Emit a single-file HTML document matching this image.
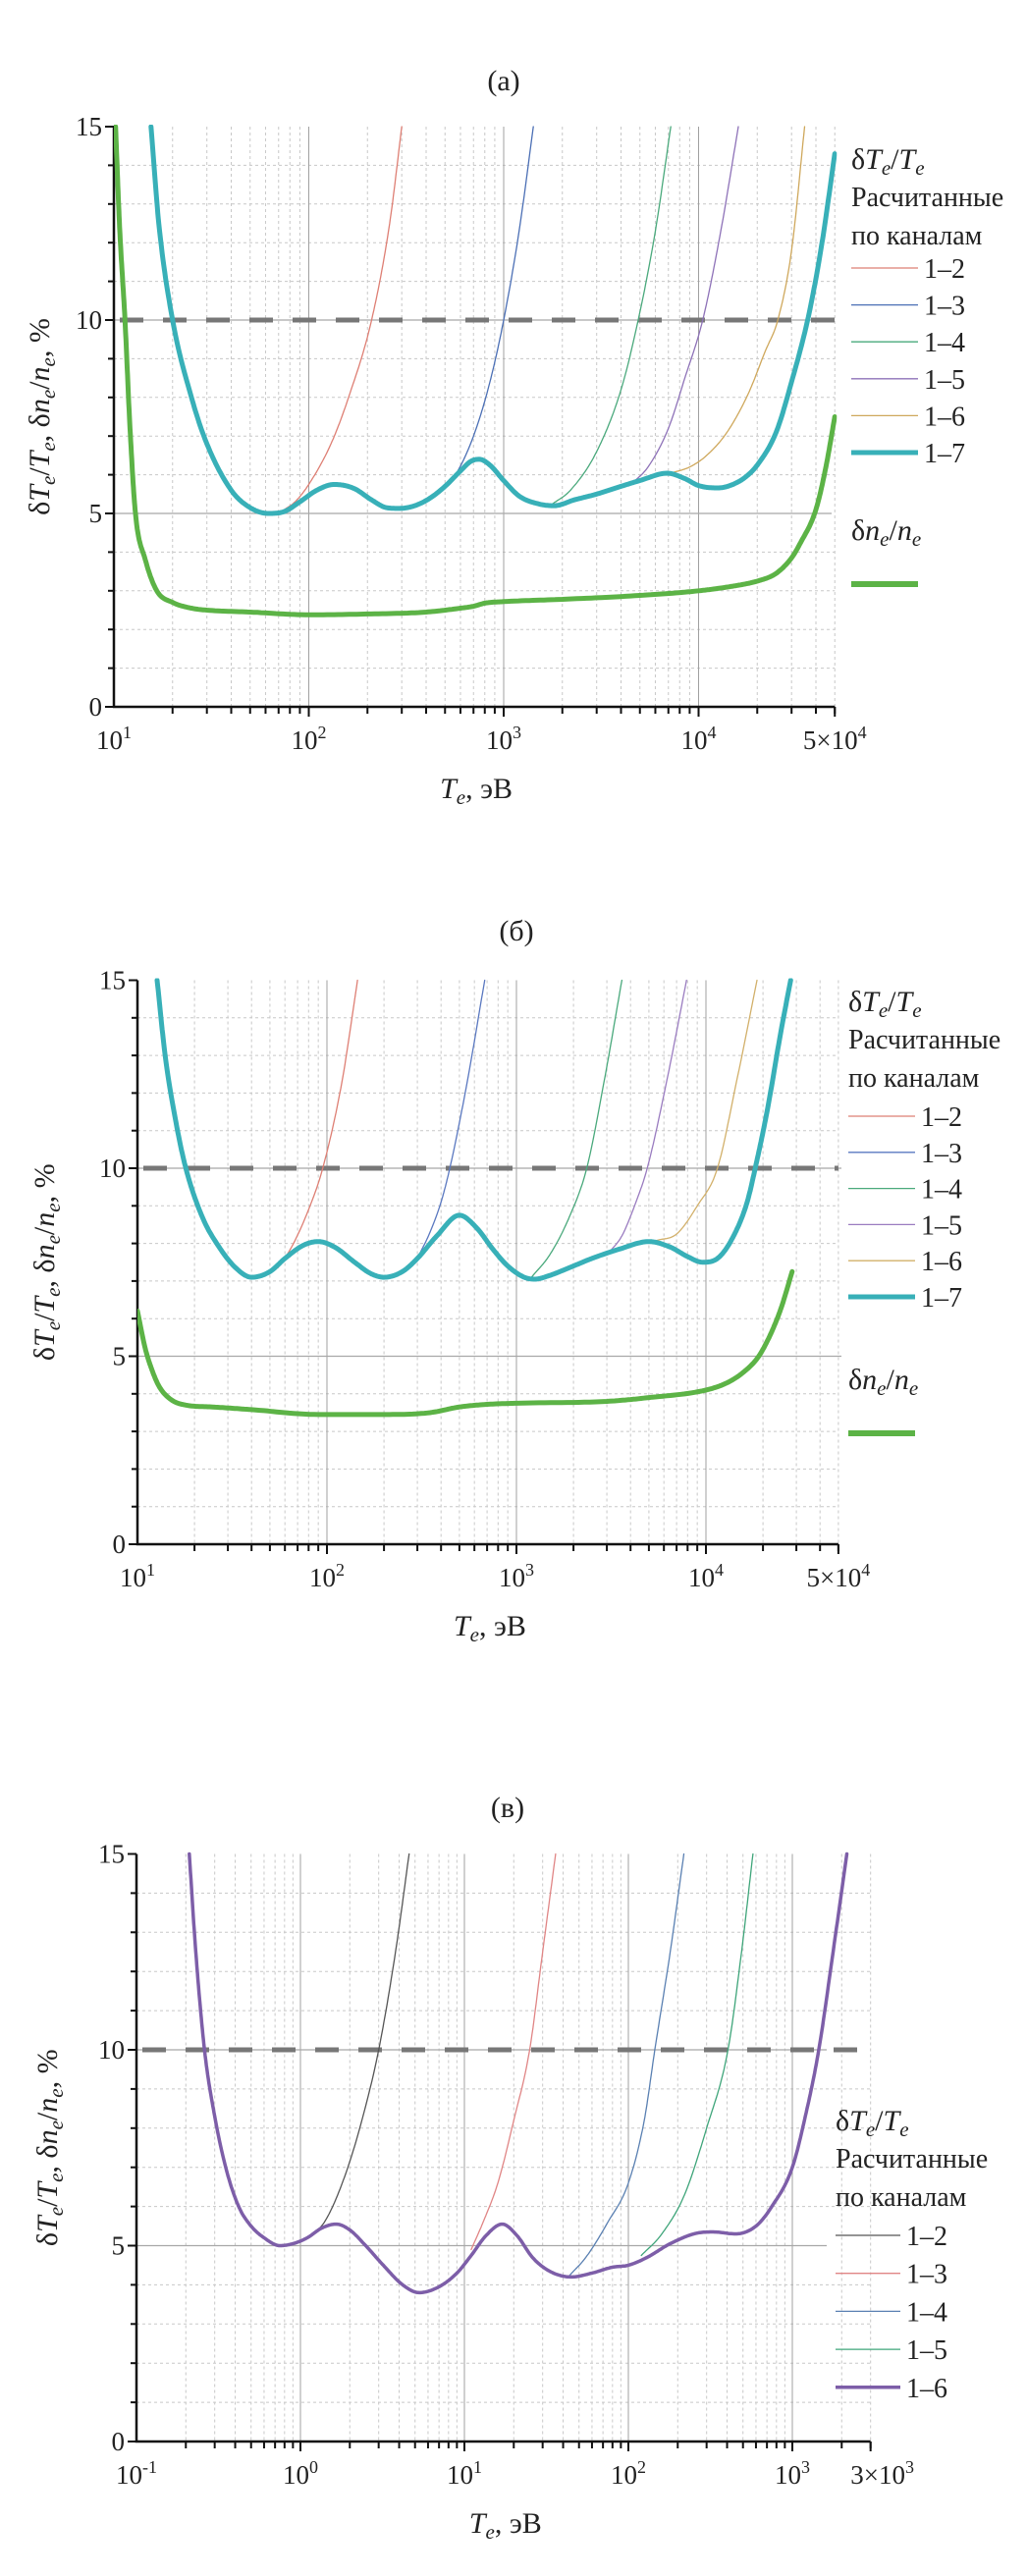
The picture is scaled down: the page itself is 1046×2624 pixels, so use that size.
<!DOCTYPE html>
<html><head><meta charset="utf-8"><style>
html,body{margin:0;padding:0;background:#fff}
svg{display:block}
text{font-family:"Liberation Serif",serif;fill:#222}
</style></head><body>
<svg id="fig" xmlns="http://www.w3.org/2000/svg" width="1046" height="2624" viewBox="0 0 1046 2624"></svg>
<script>
// ---------- Panel (a) data ----------
const a17T=[15.5,17,20,25,30,40,50,62,75,90,110,135,170,210,250,290,350,420,500,600,680,750,850,1000,1200,1500,1820,2300,3000,4000,5000,6900,8500,10000,12600,15000,17500,20000,25000,30000,37000,43000,50000];
const a17V=[15,12.5,10,8,6.8,5.6,5.15,5.0,5.05,5.3,5.6,5.75,5.65,5.35,5.15,5.13,5.2,5.4,5.7,6.1,6.35,6.4,6.25,5.85,5.45,5.25,5.2,5.35,5.5,5.7,5.85,6.04,5.9,5.72,5.66,5.75,5.95,6.25,7.1,8.4,10.2,12,14.3];
const aNT=[10.2,10.7,11.4,12.1,12.9,14.5,16.6,20,25,30,50,100,200,400,600,700,800,1000,2000,5000,10000,15000,20000,25000,30000,33000,40000,45000,50000];
const aNV=[15,12.4,10,7.2,5,3.8,3.0,2.7,2.55,2.5,2.45,2.38,2.4,2.45,2.55,2.6,2.68,2.72,2.78,2.88,3.0,3.12,3.25,3.45,3.85,4.2,5.1,6.2,7.5];
const a12T=[75,85,100,130,160,210,260,300];      const a12V=[5.1,5.3,5.75,6.8,8.0,10,12.5,15];
const a13T=[450,550,700,850,1000,1200,1420];     const a13V=[5.5,5.9,7,8.4,10,12.3,15];
const a14T=[1750,2200,3000,4000,4900,6000,7200]; const a14V=[5.22,5.6,6.6,8.2,10,12.3,15];
const a15T=[4500,5500,7000,8500,10500,13000,16000]; const a15V=[5.75,6.2,7.2,8.5,10,12.3,15];
const a16T=[7300,9000,11000,14000,18000,22000,25500,30000,35000]; const a16V=[6.05,6.2,6.5,7.1,8.1,9.2,10,11.8,15];
// ---------- Panel (b) data ----------
const b17T=[12.7,14,16,18,22,27,33,40,50,60,75,90,110,140,170,200,250,300,380,500,620,750,900,1100,1250,1500,2000,2500,3500,5000,6500,8000,9600,11500,14000,16500,18200,21000,25000,28000];
const b17V=[15,13,11.2,10,8.7,7.9,7.35,7.1,7.25,7.6,7.95,8.05,7.9,7.5,7.2,7.1,7.25,7.6,8.2,8.75,8.4,7.85,7.4,7.1,7.05,7.15,7.4,7.6,7.85,8.05,7.9,7.65,7.5,7.6,8.2,9.1,10,11.5,13.7,15];
const bNT=[10,11,12,13,15,18,25,40,90,200,350,500,700,1000,3000,5000,10000,13000,16000,19000,22000,25000,28500];
const bNV=[6.2,5.2,4.6,4.2,3.85,3.7,3.65,3.58,3.45,3.45,3.5,3.65,3.72,3.75,3.8,3.9,4.1,4.3,4.6,5.0,5.6,6.3,7.25];
const b12T=[55,65,80,95,120,145];        const b12V=[7.35,7.9,8.9,10,12.3,15];
const b13T=[300,350,400,445,550,680];    const b13V=[7.6,8.3,9.1,10,12.3,15];
const b14T=[1200,1500,1900,2350,2900,3600]; const b14V=[7.1,7.7,8.7,10,12.3,15];
const b15T=[3000,3600,4200,4900,6200,7900]; const b15V=[7.7,8.2,9,10,12.3,15];
const b16T=[5500,7000,9000,11500,14500,18600]; const b16V=[8.08,8.25,9,10,12.3,15];
// ---------- Panel (c) data ----------
const c16T=[0.21,0.23,0.26,0.3,0.35,0.42,0.5,0.6,0.75,0.9,1.1,1.35,1.65,2,2.5,3.2,4.2,5.3,7,9,11,13.5,17,21,26,33,45,60,80,100,130,180,270,330,450,600,750,1000,1200,1450,1800,2150];
const c16V=[15,12.5,10,8.3,7,6,5.5,5.2,5.0,5.05,5.2,5.45,5.55,5.4,5.0,4.5,4.0,3.8,3.95,4.3,4.75,5.25,5.55,5.25,4.7,4.35,4.2,4.3,4.45,4.5,4.7,5.05,5.33,5.35,5.3,5.5,6.0,7.0,8.3,10,12.7,15];
const c12T=[1.15,1.4,1.8,2.3,3.0,3.8,4.6];  const c12V=[5.25,5.6,6.6,8,10,12.5,15];
const c13T=[11,13,16,20,25,30,36];         const c13V=[4.9,5.6,6.6,8.2,10,12.5,15];
const c14T=[44,55,75,100,125,145,180,218];  const c14V=[4.25,4.7,5.6,6.6,8.2,10,12.5,15];
const c15T=[120,160,220,300,405,490,575];   const c15V=[4.75,5.3,6.3,8,10,12.5,15];
const yTicks=[0,5,10,15];
const yTickLabels=["0","5","10","15"];
const aXTickExp=["1","2","3","4"]; const bXTickExp=["1","2","3","4"]; const cXTickExp=["-1","0","1","2","3"];

const NS="http://www.w3.org/2000/svg";
const svg=document.getElementById('fig');
function el(tag,attrs,parent){const e=document.createElementNS(NS,tag);for(const k in attrs)e.setAttribute(k,attrs[k]);(parent||svg).appendChild(e);return e;}

function monoPath(p,T,V){
  const n=T.length,x=T.map(t=>Math.log10(t)),y=V.slice();
  const d=[],m=new Array(n);
  for(let i=0;i<n-1;i++)d.push((y[i+1]-y[i])/(x[i+1]-x[i]));
  m[0]=d[0];m[n-1]=d[n-2];
  for(let i=1;i<n-1;i++){m[i]=(d[i-1]*d[i]<=0)?0:(d[i-1]+d[i])/2;}
  for(let i=0;i<n-1;i++){if(d[i]===0){m[i]=0;m[i+1]=0;continue;}const a=m[i]/d[i],b=m[i+1]/d[i],s=a*a+b*b;if(s>9){const t=3/Math.sqrt(s);m[i]=t*a*d[i];m[i+1]=t*b*d[i];}}
  let s="";
  for(let i=0;i<n-1;i++){const h=x[i+1]-x[i];
    for(let k=0;k<=16;k++){if(i>0&&k===0)continue;const t=k/16,t2=t*t,t3=t2*t;
      const v=(2*t3-3*t2+1)*y[i]+(t3-2*t2+t)*h*m[i]+(-2*t3+3*t2)*y[i+1]+(t3-t2)*h*m[i+1];
      const X=p.x0+(x[i]+t*h-p.lmin)*p.dec,Y=p.y0-v*p.yu;
      s+=(s?"L":"M")+X.toFixed(1)+","+Y.toFixed(1);}}
  return s;
}

function richText(parent,x,y,parts,attrs){
  const t=el('text',Object.assign({x:x,y:y},attrs||{}),parent);
  parts.forEach(pt=>{const ts=el('tspan',{},t);ts.textContent=pt[0];
    if(pt[1]==='i')ts.setAttribute('font-style','italic');
    if(pt[1]==='sub'){ts.setAttribute('font-style','italic');ts.setAttribute('font-size','0.7em');ts.setAttribute('dy','6');}
    if(pt[1]==='up')ts.setAttribute('dy','-6');
  });
  return t;
}
const deltaParts=[["δ"],["T","i"],["e","sub"],["/","up"],["T","i"],["e","sub"]];
const yTitleParts=[["δ"],["T","i"],["e","sub"],["/","up"],["T","i"],["e","sub"],[", δ","up"],["n","i"],["e","sub"],["/","up"],["n","i"],["e","sub"],[", %","up"]];

function panel(p){
  const g=el('g',{});
  
  
  const top=p.y0-15*p.yu, right=p.x0+(p.lmax-p.lmin)*p.dec;
  const clipId='clip-'+p.id;
  const cp=el('clipPath',{id:clipId},g);el('rect',{x:p.x0,y:top-2,width:right-p.x0+2,height:p.y0-top+2},cp);
  const grid=el('g',{},g);
  
  
  for(let v=1;v<15;v++){ if(v===5||v===10)continue;
    el('line',{x1:p.x0,x2:right,y1:p.y0-v*p.yu,y2:p.y0-v*p.yu,stroke:'#c8c8c8','stroke-width':1,'stroke-dasharray':'3,3'},grid);}
  for(let e=Math.floor(p.lmin);e<=Math.ceil(p.lmax);e++){
    for(let m=1;m<10;m++){const L=e+Math.log10(m);if(L<=p.lmin+1e-6||L>p.lmax+1e-6)continue;
      const X=p.x0+(L-p.lmin)*p.dec;
      if(m===1)el('line',{x1:X,x2:X,y1:top,y2:p.y0,stroke:'#a0a0a0','stroke-width':1},grid);
      else el('line',{x1:X,x2:X,y1:top,y2:p.y0,stroke:'#c8c8c8','stroke-width':1,'stroke-dasharray':'3,3'},grid);
      el('line',{x1:X,x2:X,y1:p.y0,y2:p.y0+(m===1?10:7),stroke:'#111','stroke-width':2},g);
    }}
  [5,10].forEach(v=>el('line',{x1:p.x0,x2:p.hEnd,y1:p.y0-v*p.yu,y2:p.y0-v*p.yu,stroke:'#a8a8a8','stroke-width':1.3},grid));
  const dash=el('line',{x1:p.x0,x2:right,y1:p.y0-10*p.yu,y2:p.y0-10*p.yu,stroke:'#777','stroke-width':5,'stroke-dasharray':'24,20','stroke-dashoffset':'-6'},g);
  
  
  const ax=el('path',{d:`M${p.x0},${top}V${p.y0}H${right}`,fill:'none',stroke:'#111','stroke-width':2.5},g);
  
  
  el('line',{x1:right,x2:right,y1:p.y0,y2:p.y0+10,stroke:'#111','stroke-width':2},g);
  for(let v=0;v<=15;v++){const Y=p.y0-v*p.yu;el('line',{x1:p.x0-(v%5===0?9:6),x2:p.x0,y1:Y,y2:Y,stroke:'#111','stroke-width':2},g);}
  yTicks.forEach((v,i)=>{const t=el('text',{x:p.x0-12,y:p.y0-v*p.yu+9,'text-anchor':'end','font-size':27},g);t.textContent=yTickLabels[i];
    
    });
  p.exps.forEach((ex,i)=>{const X=p.x0+i*p.dec;const t=el('text',{x:X,y:p.y0+43,'text-anchor':'middle','font-size':27},g);
    const a=el('tspan',{},t);a.textContent='10';const b=el('tspan',{dy:-11,'font-size':18},t);b.textContent=ex;
    
    });
  const lt=el('text',{x:right+p.endDx,y:p.y0+43,'text-anchor':'middle','font-size':27},g);
  el('tspan',{},lt).textContent=p.endMant+'×10';const sp=el('tspan',{dy:-11,'font-size':18},lt);sp.textContent=p.endExp;
  
  
  const tt=el('text',{x:p.titleX,y:p.titleY,'text-anchor':'middle','font-size':30},g);tt.textContent=p.title;
  
  
  const xl=richText(g,(p.x0+right)/2-35,p.y0+93,[["T","i"],["e","sub"],[", эВ","up"]],{'font-size':30});
  
  
  const yl=richText(g,0,0,yTitleParts,{'font-size':30,'text-anchor':'middle',transform:`translate(${p.yTitleX},${(top+p.y0)/2}) rotate(-90)`});
  
  
  const sg=el('g',{'clip-path':`url(#${clipId})`},g);
  p.series.forEach(s=>{
    const path=el('path',{d:monoPath(p,s.T,s.V),fill:'none',stroke:s.c,'stroke-width':s.w,'stroke-linejoin':'round','stroke-linecap':'round'},sg);
    
    
  });
  const lg=el('g',{},g);
  
  
  richText(lg,p.lgX,p.lgTitleY,deltaParts,{'font-size':30});
  el('text',{x:p.lgX,y:p.lgTitleY+38,'font-size':28},lg).textContent='Расчитанные';
  el('text',{x:p.lgX,y:p.lgTitleY+77,'font-size':28},lg).textContent='по каналам';
  p.series.filter(s=>s.leg).forEach((s,i)=>{
    const Y=p.lgRow0+i*p.lgStep;
    const e=el('g',{},lg);
    
    
    el('line',{x1:p.lgX,x2:p.lgX+p.lgLen,y1:Y,y2:Y,stroke:s.c,'stroke-width':s.w},e);
    const t=el('text',{x:p.lgX+p.lgLen+6,y:Y+10,'font-size':28},e);t.textContent=s.leg;
  });
  if(p.nLegY){
    const e=el('g',{},lg);
    
    
    richText(e,p.lgX,p.nLegY,[["δ"],["n","i"],["e","sub"],["/","up"],["n","i"],["e","sub"]],{'font-size':30});
    el('line',{x1:p.lgX,x2:p.lgX+p.lgLen,y1:p.nLegY+45,y2:p.nLegY+45,stroke:'#5cb346','stroke-width':6},e);
  }
}

const CY='#38b0b8', GR='#5cb346';
panel({id:'a',title:'(а)',titleX:513,titleY:92,x0:116,dec:198.5,lmin:1,lmax:Math.log10(5e4),y0:720,yu:39.4,hEnd:847,
  exps:aXTickExp,endMant:'5',endExp:'4',endDx:0,yTitleX:50,
  lgX:867,lgTitleY:172,lgRow0:273,lgStep:37.6,lgLen:68,nLegY:550,
  series:[
    {name:'1-2',T:a12T,V:a12V,c:'#de7f74',w:1.3,leg:'1–2'},
    {name:'1-3',T:a13T,V:a13V,c:'#4b6fb5',w:1.3,leg:'1–3'},
    {name:'1-4',T:a14T,V:a14V,c:'#4aa97c',w:1.3,leg:'1–4'},
    {name:'1-5',T:a15T,V:a15V,c:'#8e72b8',w:1.3,leg:'1–5'},
    {name:'1-6',T:a16T,V:a16V,c:'#cfa85c',w:1.3,leg:'1–6'},
    {name:'1-7',T:a17T,V:a17V,c:CY,w:5,leg:'1–7'},
    {name:'dne',T:aNT,V:aNV,c:GR,w:5}]});
panel({id:'b',title:'(б)',titleX:526,titleY:958,x0:140,dec:193,lmin:1,lmax:Math.log10(5e4),y0:1573,yu:38.3,hEnd:857,
  exps:bXTickExp,endMant:'5',endExp:'4',endDx:0,yTitleX:55,
  lgX:864,lgTitleY:1030,lgRow0:1137,lgStep:36.8,lgLen:68,nLegY:1415,
  series:[
    {name:'1-2',T:b12T,V:b12V,c:'#de7f74',w:1.3,leg:'1–2'},
    {name:'1-3',T:b13T,V:b13V,c:'#5a78c0',w:1.3,leg:'1–3'},
    {name:'1-4',T:b14T,V:b14V,c:'#4aa97c',w:1.3,leg:'1–4'},
    {name:'1-5',T:b15T,V:b15V,c:'#9a7cc0',w:1.3,leg:'1–5'},
    {name:'1-6',T:b16T,V:b16V,c:'#d2b06a',w:1.3,leg:'1–6'},
    {name:'1-7',T:b17T,V:b17V,c:CY,w:5,leg:'1–7'},
    {name:'dne',T:bNT,V:bNV,c:GR,w:5}]});
panel({id:'c',title:'(в)',titleX:517,titleY:1851,x0:139,dec:167,lmin:-1,lmax:Math.log10(3000),y0:2487,yu:39.9,hEnd:842,
  exps:cXTickExp,endMant:'3',endExp:'3',endDx:12,yTitleX:58,
  lgX:851,lgTitleY:2170,lgRow0:2277,lgStep:38.7,lgLen:66,nLegY:0,
  series:[
    {name:'1-2',T:c12T,V:c12V,c:'#555',w:1.3,leg:'1–2'},
    {name:'1-3',T:c13T,V:c13V,c:'#e08585',w:1.3,leg:'1–3'},
    {name:'1-4',T:c14T,V:c14V,c:'#5a80b2',w:1.3,leg:'1–4'},
    {name:'1-5',T:c15T,V:c15V,c:'#3fa57a',w:1.3,leg:'1–5'},
    {name:'1-6',T:c16T,V:c16V,c:'#7d5ea8',w:3.5,leg:'1–6'}]});
</script>
</body></html>
